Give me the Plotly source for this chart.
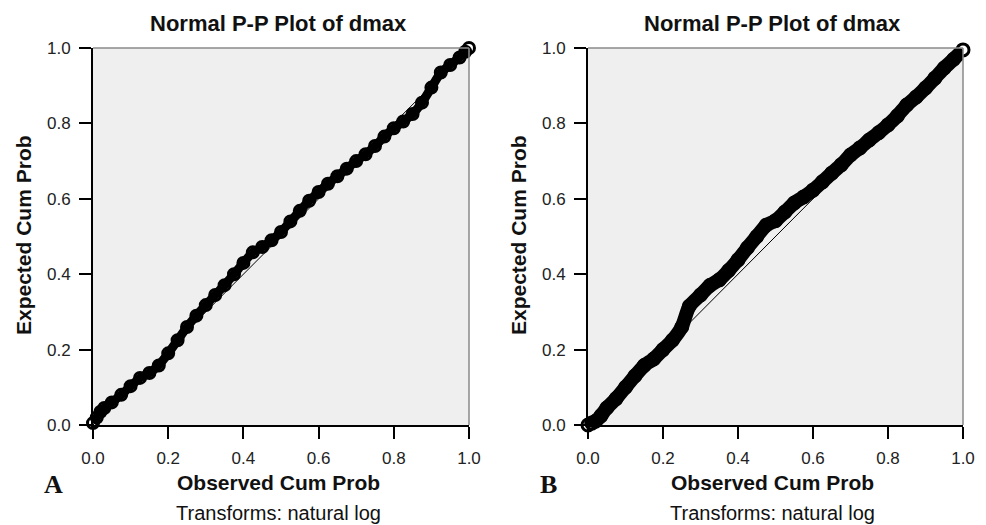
import plotly.graph_objects as go

W, H = 986, 525

# ---------------- data ----------------
obs_a = [0.0, 0.01, 0.02, 0.03, 0.05, 0.075, 0.1, 0.125, 0.15, 0.175, 0.2, 0.225, 0.25,
         0.275, 0.3, 0.325, 0.35, 0.375, 0.4, 0.425, 0.45, 0.475, 0.5, 0.525, 0.55, 0.575,
         0.6, 0.625, 0.65, 0.675, 0.7, 0.725, 0.75, 0.775, 0.8, 0.825, 0.85, 0.875, 0.9,
         0.925, 0.95, 0.975, 0.99, 1.0]
exp_a = [0.005, 0.02, 0.035, 0.045, 0.06, 0.08, 0.103, 0.125, 0.138, 0.158, 0.19, 0.225, 0.26,
         0.29, 0.318, 0.345, 0.371, 0.40, 0.43, 0.458, 0.472, 0.49, 0.512, 0.54, 0.568, 0.595,
         0.618, 0.64, 0.66, 0.68, 0.70, 0.718, 0.74, 0.765, 0.787, 0.805, 0.825, 0.855, 0.895,
         0.935, 0.955, 0.975, 0.99, 1.0]

obs_b = [0.0, 0.01, 0.02, 0.035, 0.05, 0.075, 0.1, 0.125, 0.15, 0.175, 0.2, 0.225, 0.25, 0.27,
         0.3, 0.325, 0.35, 0.375, 0.4, 0.425, 0.45, 0.475, 0.5, 0.525, 0.55, 0.575, 0.6, 0.625,
         0.65, 0.675, 0.7, 0.725, 0.75, 0.775, 0.8, 0.825, 0.85, 0.875, 0.9, 0.925, 0.95, 0.975, 1.0]
exp_b = [0.0, 0.005, 0.01, 0.025, 0.045, 0.07, 0.1, 0.13, 0.158, 0.175, 0.2, 0.225, 0.26, 0.315,
         0.345, 0.37, 0.385, 0.41, 0.438, 0.47, 0.5, 0.53, 0.542, 0.565, 0.589, 0.605, 0.623, 0.645,
         0.668, 0.69, 0.716, 0.735, 0.756, 0.775, 0.796, 0.82, 0.849, 0.87, 0.894, 0.92, 0.947, 0.97, 0.995]

ref_line = [0.0, 1.0]
ticks = [0.0, 0.2, 0.4, 0.6, 0.8, 1.0]
tick_text = ["0.0", "0.2", "0.4", "0.6", "0.8", "1.0"]

title_text = "Normal P-P Plot of dmax"
xtitle_text = "Observed Cum Prob"
ytitle_text = "Expected Cum Prob"
note_text = "Transforms: natural log"
panel_labels = ["A", "B"]

# ---------------- layout geometry (pixels) ----------------
panels = [
    dict(x0=93, x1=469, xa="x", ya="y", obs=obs_a, exp=exp_a, lw=9, ms=11),
    dict(x0=588, x1=963, xa="x2", ya="y2", obs=obs_b, exp=exp_b, lw=14, ms=12),
]
y_top, y_bot = 48, 425

def px(x):
    return x / W

def py(y):
    return 1 - y / H

fig = go.Figure()
sans = "Liberation Sans, Arial, sans-serif"

for i, p in enumerate(panels):
    fig.add_trace(go.Scatter(x=ref_line, y=ref_line, mode="lines",
                             line=dict(color="black", width=1),
                             xaxis=p["xa"], yaxis=p["ya"], showlegend=False, hoverinfo="skip"))
    fig.add_trace(go.Scatter(x=p["obs"], y=p["exp"], mode="lines+markers",
                             line=dict(color="black", width=p["lw"], shape="spline", smoothing=0.5),
                             marker=dict(symbol="circle-open", size=p["ms"], color="black",
                                         line=dict(color="black", width=3)),
                             xaxis=p["xa"], yaxis=p["ya"], showlegend=False, cliponaxis=False))

axis_common = dict(range=[0, 1], tickvals=ticks, ticktext=tick_text, ticks="outside",
                   ticklen=12, tickwidth=2, tickcolor="black", showline=True, linecolor="black",
                   linewidth=2, showgrid=False, zeroline=False, automargin=False,
                   ticklabelstandoff=5,
                   tickfont=dict(family=sans, size=17, color="#222"))

fig.update_layout(
    width=W, height=H,
    margin=dict(l=0, r=0, t=0, b=0, autoexpand=False),
    paper_bgcolor="white",
    plot_bgcolor="#efefef",
    xaxis=dict(domain=[px(93), px(469)], anchor="y", **axis_common),
    yaxis=dict(domain=[py(y_bot), py(y_top)], anchor="x", **axis_common),
    xaxis2=dict(domain=[px(588), px(963)], anchor="y2", **axis_common),
    yaxis2=dict(domain=[py(y_bot), py(y_top)], anchor="x2", **axis_common),
)

shapes = []
annotations = []
for i, p in enumerate(panels):
    # grey frame lines on top and right
    shapes.append(dict(type="line", xref="paper", yref="paper",
                       x0=px(p["x0"]), x1=px(p["x1"]), y0=py(y_top), y1=py(y_top),
                       line=dict(color="#8a8a8a", width=1.5), layer="above"))
    shapes.append(dict(type="line", xref="paper", yref="paper",
                       x0=px(p["x1"]), x1=px(p["x1"]), y0=py(y_top), y1=py(y_bot),
                       line=dict(color="#8a8a8a", width=1.5), layer="above"))
    cx = (p["x0"] + p["x1"]) / 2 - 3
    annotations.append(dict(text=title_text, x=px(cx), y=py(23), xref="paper", yref="paper",
                            showarrow=False, xanchor="center", yanchor="middle",
                            font=dict(family=sans, size=22, color="#111", weight="bold")))
    annotations.append(dict(text=xtitle_text, x=px(cx), y=py(482), xref="paper", yref="paper",
                            showarrow=False, xanchor="center", yanchor="middle",
                            font=dict(family=sans, size=21, color="#111", weight="bold")))
    annotations.append(dict(text=note_text, x=px(cx), y=py(513), xref="paper", yref="paper",
                            showarrow=False, xanchor="center", yanchor="middle",
                            font=dict(family=sans, size=20, color="#111")))
    annotations.append(dict(text=ytitle_text, x=px(p["x0"] - 69), y=py(235), xref="paper", yref="paper",
                            showarrow=False, xanchor="center", yanchor="middle", textangle=-90,
                            font=dict(family=sans, size=21, color="#111", weight="bold")))
    annotations.append(dict(text=panel_labels[i], x=px(p["x0"] - 40), y=py(484), xref="paper", yref="paper",
                            showarrow=False, xanchor="center", yanchor="middle",
                            font=dict(family="Liberation Serif, Times New Roman, serif", size=26,
                                      color="#111", weight="bold")))

fig.update_layout(shapes=shapes, annotations=annotations)
fig.write_html("out.html")
